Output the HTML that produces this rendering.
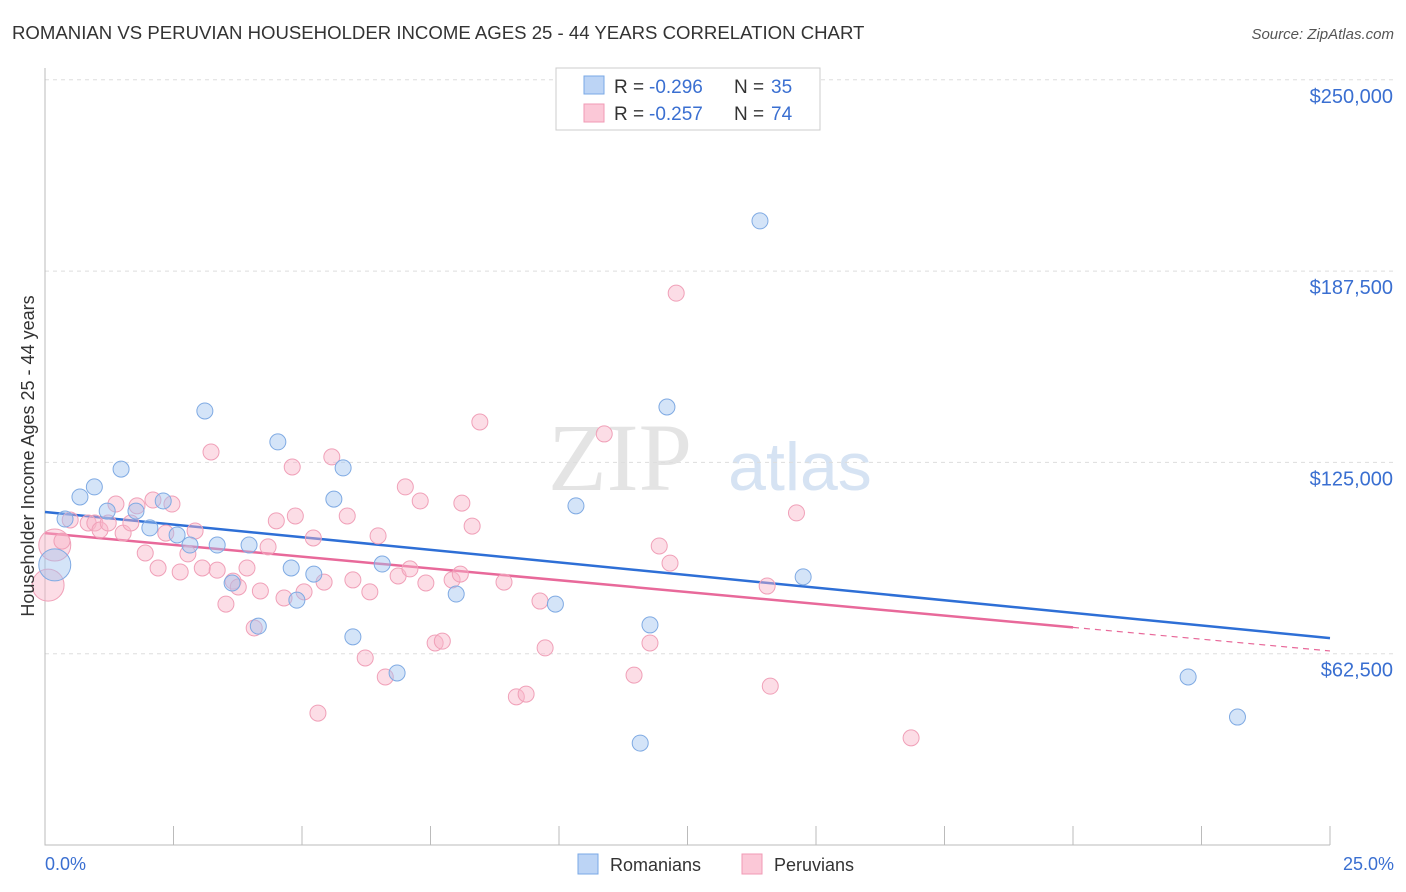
<!DOCTYPE html>
<html><head><meta charset="utf-8"><style>
body{margin:0;background:#fff;font-family:"Liberation Sans",sans-serif}
svg{display:block}
</style></head><body>
<svg width="1406" height="892">
<text x="12" y="39" font-size="18.6" fill="#333">ROMANIAN VS PERUVIAN HOUSEHOLDER INCOME AGES 25 - 44 YEARS CORRELATION CHART</text>
<text x="1394" y="39" font-size="15" fill="#555" font-style="italic" text-anchor="end">Source: ZipAtlas.com</text>
<text x="620" y="490" font-size="96" fill="#e4e4e4" font-family="Liberation Serif" text-anchor="middle">ZIP</text>
<text x="800" y="490" font-size="68" fill="#d6e3f3" text-anchor="middle">atlas</text>
<g id="grid"></g><g id="axes"></g><g id="trend"></g><g id="pts"></g>
<text transform="translate(34,456) rotate(-90)" font-size="18" fill="#333" text-anchor="middle">Householder Income Ages 25 - 44 years</text>
<text x="45" y="870" font-size="18" fill="#3a6fd1">0.0%</text>
<text x="1394" y="870" font-size="18" fill="#3a6fd1" text-anchor="end">25.0%</text>
<g>
<rect x="556" y="68" width="264" height="62" fill="#fff" stroke="#ccc"/>
<rect x="584" y="76" width="20" height="18" fill="#bcd4f5" stroke="#7aa8e6"/>
<text x="614" y="93" font-size="19" fill="#333">R =</text>
<text x="649" y="93" font-size="19" fill="#3a6fd1">-0.296</text>
<text x="734" y="93" font-size="19" fill="#333">N =</text>
<text x="771" y="93" font-size="19" fill="#3a6fd1">35</text>
<rect x="584" y="104" width="20" height="18" fill="#fbc8d7" stroke="#f09ab4"/>
<text x="614" y="120" font-size="19" fill="#333">R =</text>
<text x="649" y="120" font-size="19" fill="#3a6fd1">-0.257</text>
<text x="734" y="120" font-size="19" fill="#333">N =</text>
<text x="771" y="120" font-size="19" fill="#3a6fd1">74</text>
</g>
<g>
<rect x="578" y="854" width="20" height="20" fill="#bcd4f5" stroke="#7aa8e6"/>
<text x="610" y="871" font-size="18" fill="#333">Romanians</text>
<rect x="742" y="854" width="20" height="20" fill="#fbc8d7" stroke="#f09ab4"/>
<text x="774" y="871" font-size="18" fill="#333">Peruvians</text>
</g>
</svg>
<script>
const yTicks=[62500,125000,187500,250000];
const yTickLabels=["$62,500","$125,000","$187,500","$250,000"];
const xTicks=[2.5,5,7.5,10,12.5,15,17.5,20,22.5,25];
const romX=[0.19,0.39,0.68,0.96,1.21,1.48,1.77,2.04,2.30,2.57,2.82,3.11,3.35,3.64,3.97,4.15,4.53,4.79,4.90,5.23,5.62,5.80,5.99,6.56,6.85,8.00,9.93,10.33,11.58,11.77,12.10,13.91,14.75,22.24,23.20];
const romY=[91.5,106.5,113.7,117.0,109.1,122.8,109.1,103.6,112.4,101.3,98.0,141.8,98.0,85.6,98.0,71.5,131.7,90.5,80.0,88.5,113.0,123.2,68.0,91.8,56.2,82.0,78.7,110.8,33.3,71.9,143.1,203.9,87.6,54.9,41.8];
const romBig=[0];
const perX=[0.06,0.19,0.33,0.49,0.84,0.97,1.07,1.23,1.38,1.52,1.67,1.79,1.95,2.10,2.20,2.35,2.47,2.63,2.78,2.92,3.06,3.23,3.35,3.52,3.66,3.76,3.93,4.07,4.19,4.34,4.50,4.65,4.81,4.87,5.04,5.22,5.31,5.43,5.58,5.88,5.99,6.23,6.32,6.48,6.62,6.87,7.01,7.10,7.30,7.41,7.59,7.73,7.92,8.08,8.11,8.31,8.46,8.93,9.17,9.36,9.63,9.73,10.88,11.46,11.77,11.95,12.16,12.28,14.05,14.11,14.62,16.85];
const perY=[84.9,98.0,99.3,106.2,105.2,105.2,102.9,105.2,111.4,101.9,105.2,110.8,95.4,112.7,90.5,101.9,111.4,89.2,95.1,102.6,90.5,128.4,89.8,78.7,86.2,84.3,90.5,70.9,83.0,97.4,105.9,80.7,123.5,107.5,82.7,100.3,43.1,85.9,126.8,107.5,86.6,61.1,82.7,101.0,54.9,87.9,117.0,90.2,112.4,85.6,66.0,66.6,86.6,88.5,111.7,104.2,138.2,85.9,48.4,49.3,79.7,64.4,134.3,55.5,66.0,97.7,92.1,180.3,84.6,51.9,108.5,35.0];
const perBig=[0,1];
const romTrend=[108.8,67.6];
const perTrend=[101.9,63.4];
const perSolidEnd=20;
const NS="http://www.w3.org/2000/svg";
const X=v=>45+v/25*1285;
const Y=v=>845-v/62500*191.3;
const Yk=v=>Y(v*1000);
function mk(p,t,a){const e=document.createElementNS(NS,t);for(const k in a)e.setAttribute(k,a[k]);document.getElementById(p).appendChild(e);return e;}
yTicks.forEach((t,i)=>{
 const l=mk('grid','line',{x1:45,x2:1395,y1:Y(t),y2:Y(t),stroke:'#ddd','stroke-dasharray':'4,4'});
 
 
 const tx=mk('grid','text',{x:1393,y:Y(t)+23,'font-size':20,fill:'#3a6fd1','text-anchor':'end'});
 tx.textContent=yTickLabels[i];
 
 
});
const ax=mk('axes','path',{d:'M45,68V845H1330',stroke:'#bbb',fill:'none'});


xTicks.forEach(t=>{
 const l=mk('axes','line',{x1:X(t),x2:X(t),y1:826,y2:845,stroke:'#bbb'});
 
 
});
function pts(xs,ys,big,fill,stroke,name){
 xs.forEach((x,i)=>{
  const r=big.includes(i)?16:8;
  const c=mk('pts','circle',{cx:X(x),cy:Yk(ys[i]),r:r,fill:fill,stroke:stroke,'stroke-width':1});
  
  
 });
}
pts(perX,perY,perBig,'rgba(248,180,200,0.45)','#f0a0b8','peruvian-point');
pts(romX,romY,romBig,'rgba(160,195,240,0.45)','#7faae3','romanian-point');
const pv=x=>perTrend[0]+(perTrend[1]-perTrend[0])*x/25;
let t1=mk('trend','line',{x1:X(0),y1:Yk(romTrend[0]),x2:X(25),y2:Yk(romTrend[1]),stroke:'#2e6fd6','stroke-width':2.5});


let t2=mk('trend','line',{x1:X(0),y1:Yk(pv(0)),x2:X(perSolidEnd),y2:Yk(pv(perSolidEnd)),stroke:'#e8699a','stroke-width':2.5});


let t3=mk('trend','line',{x1:X(perSolidEnd),y1:Yk(pv(perSolidEnd)),x2:X(25),y2:Yk(pv(25)),stroke:'#e8699a','stroke-width':1.2,'stroke-dasharray':'6,5'});


</script>
</body></html>
